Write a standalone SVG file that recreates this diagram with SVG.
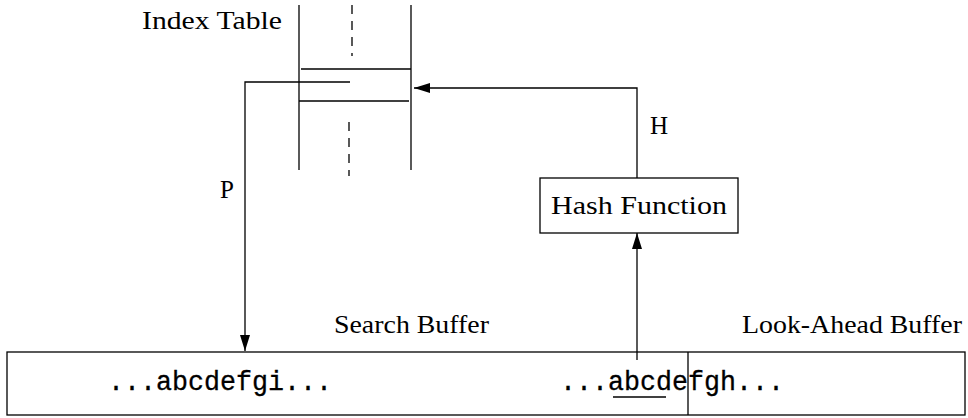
<svg xmlns="http://www.w3.org/2000/svg" width="968" height="418" viewBox="0 0 968 418">
<style>
.ln{stroke:#000;stroke-width:1.3;fill:none}
.dash{stroke:#000;stroke-width:1.3;fill:none;stroke-dasharray:9,7}
.rm{font-family:"Liberation Serif","Times New Roman",serif;font-size:25px;fill:#000}
.tt{font-family:"Liberation Mono","Courier New",monospace;font-size:27px;fill:#000;stroke:#000;stroke-width:0.3}
</style>
<defs>
<marker id="ah" viewBox="0 0 16 10" refX="16" refY="5" markerWidth="16" markerHeight="10" markerUnits="userSpaceOnUse" orient="auto">
<path d="M0,0 L16,5 L0,10 z" fill="#000"/>
</marker>
</defs>
<rect width="968" height="418" fill="#fff"/>
<g id="index-table">
<line class="ln" x1="299" y1="5" x2="299" y2="170"/>
<line class="ln" x1="411" y1="5" x2="411" y2="170"/>
<line class="dash" x1="352" y1="5" x2="352" y2="56"/>
<line class="dash" x1="349" y1="122" x2="349" y2="176"/>
<line class="ln" x1="301" y1="69" x2="411" y2="69"/>
<line class="ln" x1="299" y1="101" x2="409" y2="101"/>
<text class="rm" x="142" y="29" textLength="140" lengthAdjust="spacingAndGlyphs">Index Table</text>
</g>
<g id="hash-function">
<rect class="ln" x="540" y="178" width="198" height="55"/>
<text class="rm" x="639" y="214" text-anchor="middle" textLength="176" lengthAdjust="spacingAndGlyphs">Hash Function</text>
</g>
<g id="buffer">
<rect class="ln" x="7" y="352" width="958" height="63"/>
<line class="ln" x1="688" y1="352" x2="688" y2="415"/>
<text class="tt" x="108" y="390" textLength="224" lengthAdjust="spacingAndGlyphs">...abcdefgi...</text>
<text class="tt" x="560" y="390" textLength="224" lengthAdjust="spacingAndGlyphs">...abcdefgh...</text>
<line class="ln" x1="613" y1="397" x2="666" y2="397"/>
<text class="rm" x="334" y="333" textLength="155" lengthAdjust="spacingAndGlyphs">Search Buffer</text>
<text class="rm" x="742" y="333" textLength="220" lengthAdjust="spacingAndGlyphs">Look-Ahead Buffer</text>
</g>
<g id="connectors">
<path class="ln" d="M350,82 L245,82 L245,351" marker-end="url(#ah)"/>
<path class="ln" d="M637,178 L637,88 L414,88" marker-end="url(#ah)"/>
<path class="ln" d="M637,360 L637,233" marker-end="url(#ah)"/>
<text class="rm" x="650" y="134">H</text>
<text class="rm" x="220" y="198">P</text>
</g>
</svg>
